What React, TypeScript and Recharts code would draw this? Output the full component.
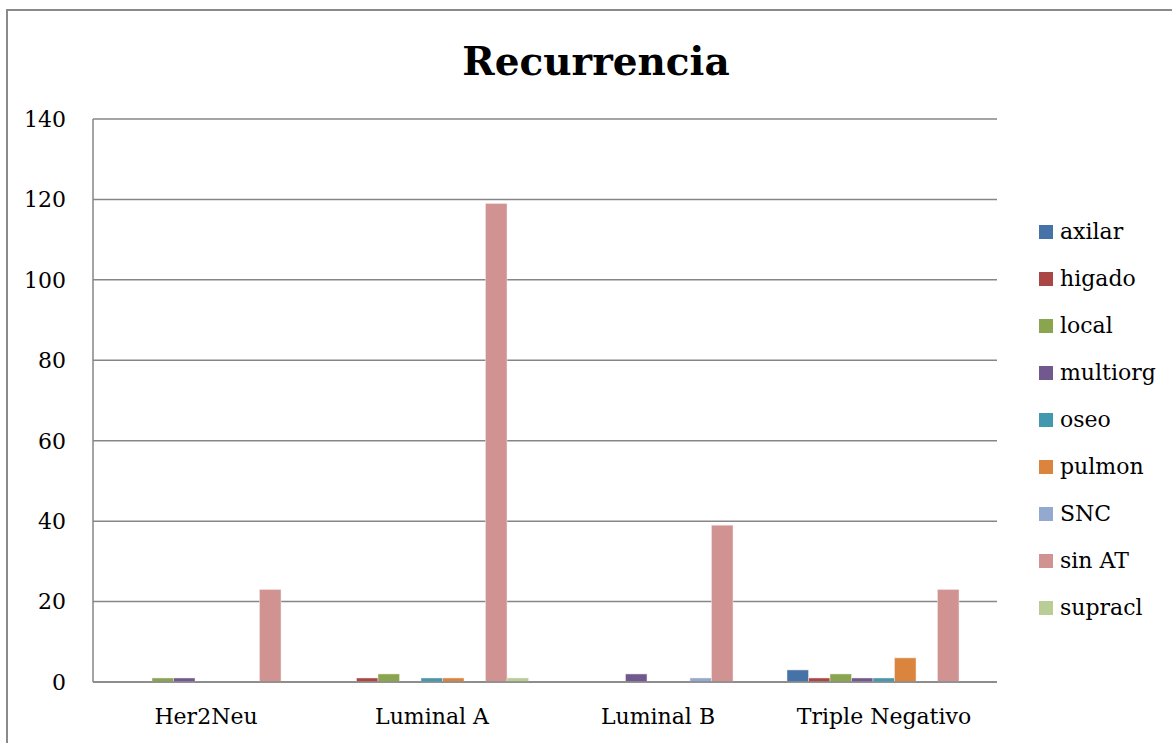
import React from "react";
import { Bar, BarChart, CartesianGrid, Legend, XAxis, YAxis } from "recharts";

// subtypes on the x axis
const categories = ["Her2Neu", "Luminal A", "Luminal B", "Triple Negativo"];

// recurrence site counts, one value per subtype
const axilar = [0, 0, 0, 3];
const higado = [0, 1, 0, 1];
const local = [1, 2, 0, 2];
const multiorg = [1, 0, 2, 1];
const oseo = [0, 1, 0, 1];
const pulmon = [0, 1, 0, 6];
const snc = [0, 0, 1, 0];
const sinAT = [23, 119, 39, 23];
const supracl = [0, 1, 0, 0];

const yTicks = [0, 20, 40, 60, 80, 100, 120, 140];

const series = [
  { key: "axilar", values: axilar, color: "#4572A7" },
  { key: "higado", values: higado, color: "#AA4643" },
  { key: "local", values: local, color: "#89A54E" },
  { key: "multiorg", values: multiorg, color: "#71588F" },
  { key: "oseo", values: oseo, color: "#4198AF" },
  { key: "pulmon", values: pulmon, color: "#DB843D" },
  { key: "SNC", values: snc, color: "#93A9CF" },
  { key: "sin AT", values: sinAT, color: "#D19392" },
  { key: "supracl", values: supracl, color: "#B9CD96" },
];

const data = categories.map((name, i) => {
  const row: Record<string, string | number> = { name };
  series.forEach((s) => {
    row[s.key] = s.values[i];
  });
  return row;
});

const FONT = "'DejaVu Serif', serif";
const GRID = "#868686";
const order = series.map((s) => s.key);

// keep legend entries in series order (recharts sorts them by name otherwise)
const LegendList = (props: any) => {
  const items = [...(props.payload || [])].sort(
    (a: any, b: any) => order.indexOf(a.value) - order.indexOf(b.value)
  );
  return (
    <div style={{ fontFamily: FONT, fontSize: 22, color: "#000" }}>
      {items.map((it: any) => (
        <div
          key={it.value}
          style={{ height: 47, display: "flex", alignItems: "center" }}
        >
          <span
            style={{
              width: 14,
              height: 14,
              background: it.color,
              display: "inline-block",
              marginRight: 7,
            }}
          />
          <span>{it.value}</span>
        </div>
      ))}
    </div>
  );
};

export default function App() {
  return (
    <div
      style={{
        position: "fixed",
        left: 0,
        top: 0,
        width: 1172,
        height: 743,
        overflow: "hidden",
        background: "#fff",
      }}
    >
      <div
        style={{
          position: "absolute",
          left: 6,
          top: 9,
          width: 1200,
          height: 800,
          borderLeft: "2px solid #8a8a8a",
          borderTop: "2px solid #8a8a8a",
        }}
      />
      <div style={{ position: "absolute", left: 0, top: 0 }}>
        <BarChart
          width={1172}
          height={743}
          data={data}
          margin={{ top: 119, right: 175, bottom: 31, left: 33 }}
          barSize={21.5}
          barGap={0}
        >
          <text
            x={596}
            y={75}
            textAnchor="middle"
            fontFamily={FONT}
            fontWeight="bold"
            fontSize={39}
            fill="#000"
          >
            Recurrencia
          </text>
          <CartesianGrid
            vertical={false}
            stroke={GRID}
            strokeWidth={1.5}
          />
          <XAxis
            dataKey="name"
            height={30}
            tickLine={false}
            tickMargin={20}
            axisLine={{ stroke: GRID, strokeWidth: 1.5 }}
            tick={{ fill: "#000", fontFamily: FONT, fontSize: 22 }}
          />
          <YAxis
            width={60}
            domain={[0, 140]}
            ticks={yTicks}
            tickLine={false}
            tickMargin={21}
            axisLine={{ stroke: GRID, strokeWidth: 1.5 }}
            tick={{ fill: "#000", fontFamily: FONT, fontSize: 22 }}
          />
          <Legend
            layout="vertical"
            align="center"
            verticalAlign="middle"
            content={LegendList}
            wrapperStyle={{ left: 1039, top: 208, width: 133 }}
          />
          {series.map((s) => (
            <Bar
              key={s.key}
              dataKey={s.key}
              fill={s.color}
              stroke="#f4e8e8"
              strokeWidth={0.5}
              isAnimationActive={false}
            />
          ))}
        </BarChart>
      </div>
    </div>
  );
}
